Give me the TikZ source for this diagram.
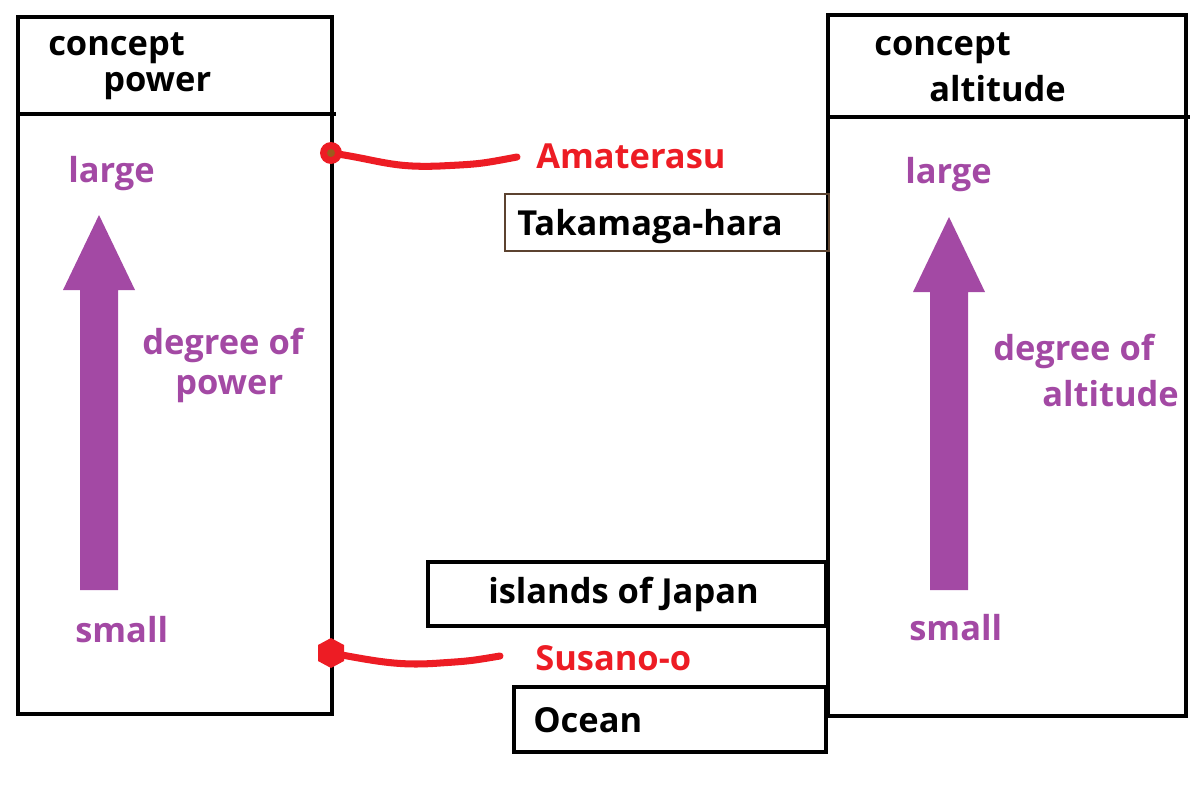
\documentclass[tikz,border=0pt]{standalone}
\usepackage{fontspec}
\setmainfont{Open Sans}
\definecolor{conceptpurple}{HTML}{A349A4}
\definecolor{godred}{HTML}{ED1C24}
\definecolor{placebrown}{HTML}{5C4330}
\tikzset{
  panel/.style={line width=2.8pt},
  word/.style={font=\fontsize{24.5}{28}\selectfont\bfseries, inner sep=0pt, anchor=base west},
  scaleword/.style={word, text=conceptpurple},
  godword/.style={word, text=godred},
  godline/.style={godred, line width=5pt, line cap=round},
  bigarrow/.style={fill=conceptpurple, draw=none}
}

\begin{document}
\begin{tikzpicture}[x=0.025cm,y=-0.025cm]
\useasboundingbox (0,0) rectangle (1200,788);

% left panel: power
\draw[panel] (18,17) rectangle (332,714);
\draw[panel] (18,114) -- (336,114);
\node[word] (powhead) at (48,56) {concept};
\node[word] (powname) at (103,92) {power};
\node[scaleword] (powlarge) at (68,182) {large};
\node[scaleword] (powdeg) at (142,354) {degree of};
\node[scaleword] (powdegb) at (175,394) {power};
\node[scaleword] (powsmall) at (75,642) {small};
\fill[bigarrow] (80,590) -- (80,290) -- (63,290) -- (99,215) -- (135,290) -- (118,290) -- (118,590) -- cycle;

% right panel: altitude
\draw[panel] (828,15) rectangle (1186,716);
\draw[panel] (828,117) -- (1190,117);
\node[word] (althead) at (874,56) {concept};
\node[word] (altname) at (929,102) {altitude};
\node[scaleword] (altlarge) at (905,183) {large};
\node[scaleword] (altdeg) at (993,360) {degree of};
\node[scaleword] (altdegb) at (1042,406) {altitude};
\node[scaleword] (altsmall) at (909,640) {small};
\fill[bigarrow] (930,590) -- (930,292) -- (913,292) -- (949,217) -- (985,292) -- (968,292) -- (968,590) -- cycle;

% places
\draw[placebrown, line width=1.4pt] (505,194) rectangle (829,251);
\node[word] (takama) at (517,235) {Takamaga-hara};
\draw[line width=3.5pt] (428,562) rectangle (826,626);
\node[word] (islands) at (488,603) {islands of Japan};
\draw[line width=2.4pt] (514,687) rectangle (826,752);
\node[word] (ocean) at (533,732) {Ocean};

% gods
\node[godword] (amaterasu) at (536,168) {Amaterasu};
\coordinate (amadot) at (331,153);
\coordinate (amaend) at (517,157);
\draw[godline] (amadot) .. controls (380,160) and (390,168) .. (440,166) .. controls (480,164) .. (amaend);
\fill[godred] (amadot) circle (11);
\fill[placebrown!60!orange] (amadot) circle (4);

\node[godword] (susanoo) at (535,670) {Susano-o};
\coordinate (susdot) at (331,653);
\coordinate (susend) at (500,656);
\draw[godline] (susdot) .. controls (380,662) and (400,666) .. (440,663) .. controls (470,661) .. (susend);
\fill[godred] (331,638) -- (344,645) -- (344,661) -- (331,668) -- (318,661) -- (318,645) -- cycle;

\end{tikzpicture}
\end{document}
